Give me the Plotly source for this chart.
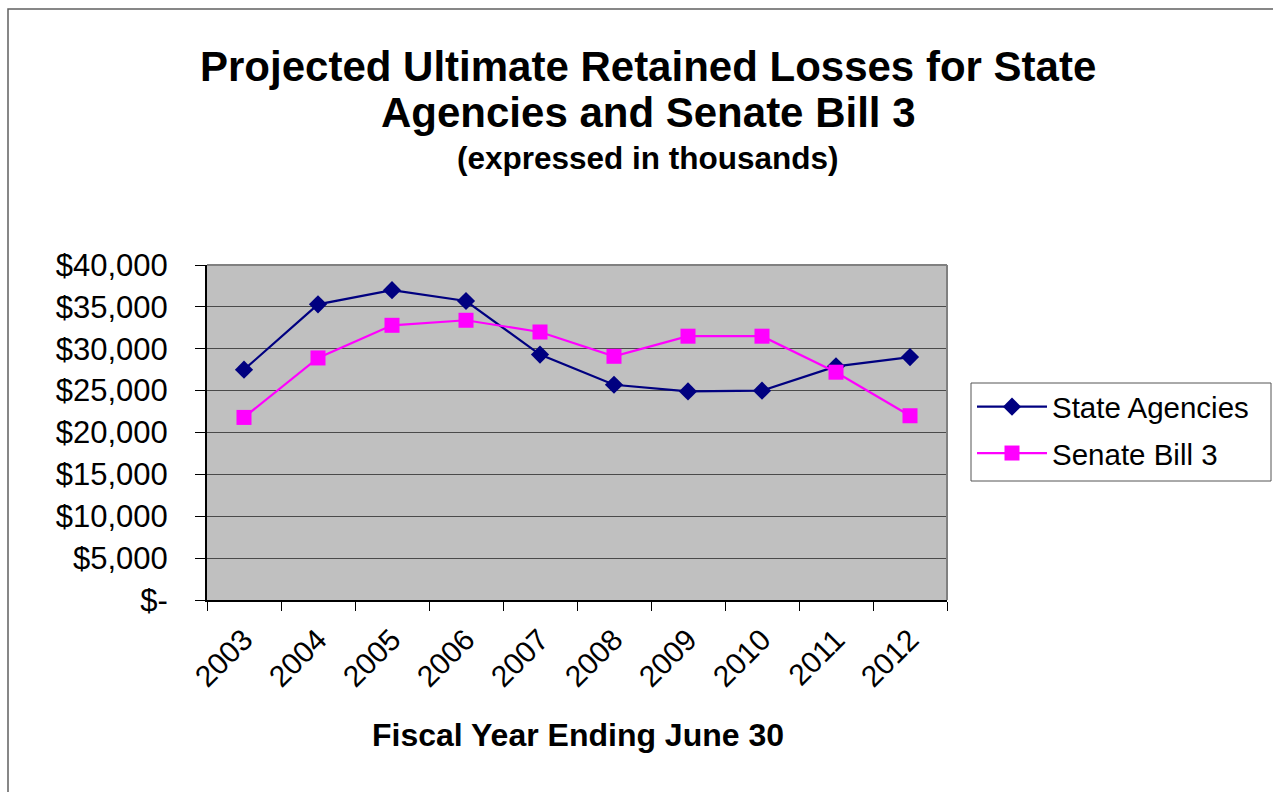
import plotly.graph_objects as go

years = ["2003", "2004", "2005", "2006", "2007", "2008", "2009", "2010", "2011", "2012"]
state_agencies = [27500, 35300, 37000, 35700, 29300, 25700, 24900, 25000, 27900, 29000]
senate_bill_3 = [21800, 28900, 32800, 33400, 32000, 29100, 31500, 31500, 27200, 22000]
y_ticks = [0, 5000, 10000, 15000, 20000, 25000, 30000, 35000, 40000]
y_tick_labels = ["$-", "$5,000", "$10,000", "$15,000", "$20,000", "$25,000", "$30,000", "$35,000", "$40,000"]

FONT = "Liberation Sans, Arial, sans-serif"
W, H = 1273, 792
L, R, T, B = 207, 326, 265, 192
pw = W - L - R
ph = H - T - B


def px_x(x):
    return (x - L) / pw


def px_y(y):
    return (H - B - y) / ph


fig = go.Figure()
fig.add_trace(go.Scatter(
    x=years, y=state_agencies, name="State Agencies", mode="lines+markers",
    legendgroup="a",
    line=dict(color="#000080", width=2.2),
    marker=dict(symbol="diamond", size=14, color="#000080"),
))
fig.add_trace(go.Scatter(
    x=years, y=senate_bill_3, name="Senate Bill 3", mode="lines+markers",
    legendgroup="b",
    line=dict(color="#FF00FF", width=2.2),
    marker=dict(symbol="square", size=15, color="#FF00FF"),
))

fig.update_layout(
    width=W, height=H,
    margin=dict(l=L, r=R, t=T, b=B, autoexpand=False),
    paper_bgcolor="white", plot_bgcolor="#C0C0C0",
    font=dict(family=FONT, color="black"),
    showlegend=True,
    legend=dict(
        x=px_x(972), y=px_y(381), xanchor="left", yanchor="top",
        borderwidth=0, bgcolor="rgba(0,0,0,0)",
        font=dict(size=29.5, family=FONT),
        traceorder="grouped", tracegroupgap=5,
        itemwidth=70,
    ),
    xaxis=dict(
        type="category", range=[-0.5, 9.5], tickson="boundaries",
        ticks="outside", ticklen=9, tickcolor="black", ticklabelstandoff=8,
        tickangle=-45, tickfont=dict(size=30, family=FONT),
        showgrid=False, showline=True, linecolor="black", linewidth=2, mirror=False,
    ),
    yaxis=dict(
        range=[0, 40000], tickvals=y_ticks, ticktext=y_tick_labels,
        ticks="outside", ticklen=10, tickcolor="black", ticklabelstandoff=21,
        tickfont=dict(size=31, family=FONT),
        showgrid=True, gridcolor="#4a4a4a", gridwidth=1,
        showline=True, linecolor="black", linewidth=2, zeroline=False,
    ),
)

annots = [
    ("<b>Projected Ultimate Retained Losses for State</b>", 648, 66, 42),
    ("<b>Agencies and Senate Bill 3</b>", 648, 112, 42),
    ("<b>(expressed in thousands)</b>", 648, 158, 31.5),
    ("<b>Fiscal Year Ending June 30</b>", 578, 735, 32),
]
for text, xpx, ypx, size in annots:
    fig.add_annotation(
        text=text, x=px_x(xpx), y=px_y(ypx),
        xref="paper", yref="paper", xanchor="center", yanchor="middle",
        showarrow=False, font=dict(size=size, family=FONT),
    )

# plot area top/right border (gray)
fig.add_shape(type="line", xref="paper", yref="paper", x0=0, x1=1, y0=1, y1=1,
              line=dict(color="#808080", width=2))
fig.add_shape(type="line", xref="paper", yref="paper", x0=1, x1=1, y0=0, y1=1,
              line=dict(color="#808080", width=2))

# legend box
fig.add_shape(type="rect", xref="paper", yref="paper",
              x0=px_x(971), x1=px_x(1271), y0=px_y(481), y1=px_y(383),
              line=dict(color="#555555", width=1), fillcolor="white", layer="above")

# outer chart border
fig.add_shape(type="rect", xref="paper", yref="paper",
              x0=px_x(8), x1=px_x(1290), y0=px_y(810), y1=px_y(9),
              line=dict(color="#606060", width=1.5), layer="below")

fig.write_html(
    "out.html",
    config={"displayModeBar": False},
    post_script="document.body.style.margin='0';document.body.style.overflow='hidden';",
)
